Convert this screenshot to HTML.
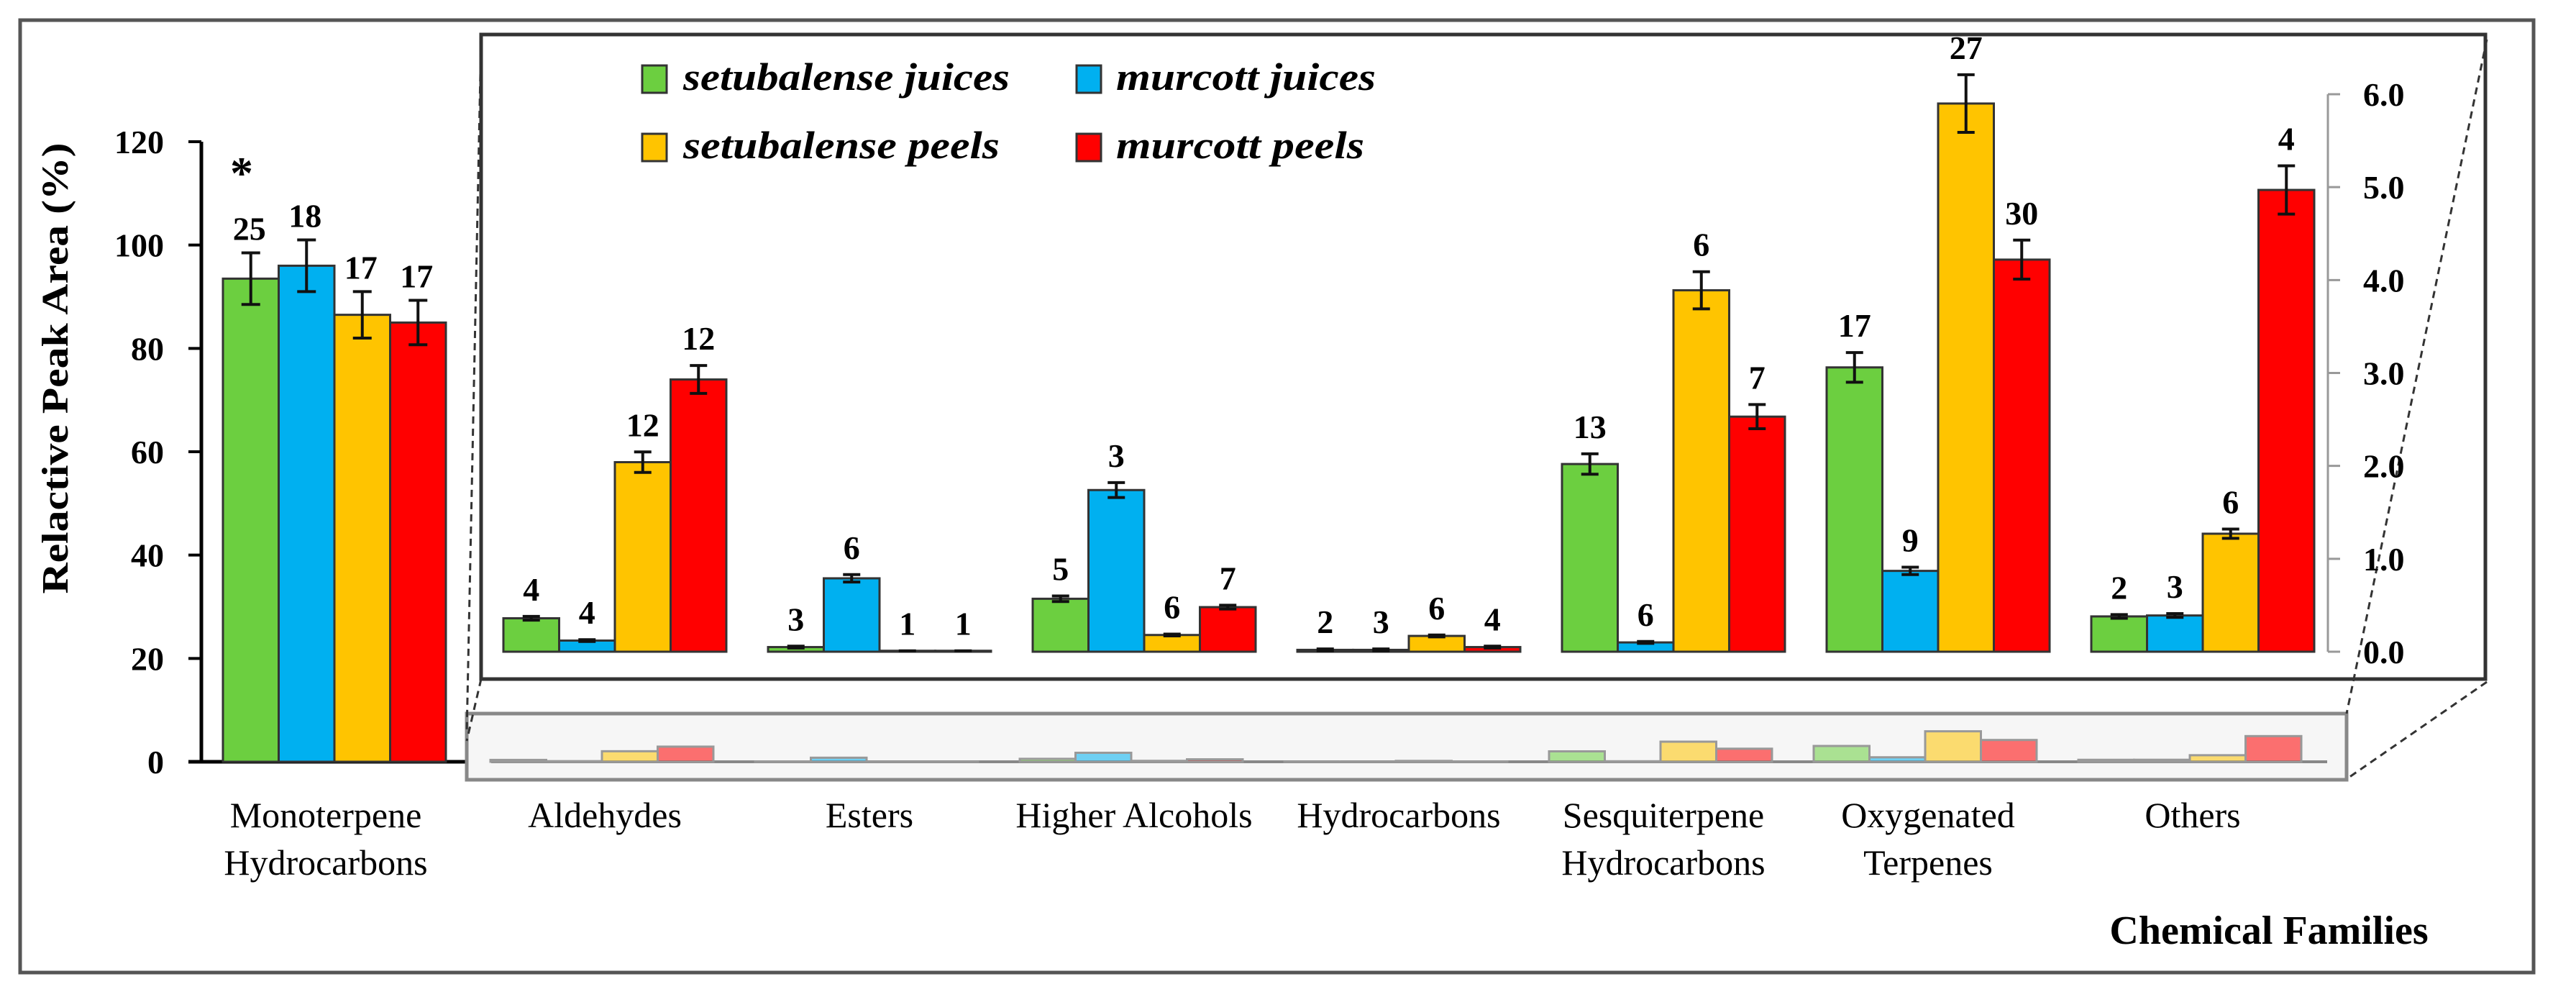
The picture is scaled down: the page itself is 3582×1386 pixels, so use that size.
<!DOCTYPE html>
<html><head><meta charset="utf-8"><style>
html,body{margin:0;padding:0;background:#fff;}
svg{display:block;font-family:"Liberation Serif",serif;}
</style></head><body>
<svg id="chart" width="3582" height="1386" viewBox="0 0 3582 1386" xmlns="http://www.w3.org/2000/svg">
<rect x="28" y="28" width="3495" height="1324" fill="#fff" stroke="#555" stroke-width="5"/>
<g id="main"></g>
<rect x="669" y="48" width="2787" height="896" fill="#fff" stroke="#333" stroke-width="5"/>
<rect x="649" y="992" width="2614" height="92" fill="#f6f6f6" stroke="#888" stroke-width="5"/>
<g stroke="#333" stroke-width="3" stroke-dasharray="10,7" fill="none">
<line x1="669" y1="52" x2="649" y2="1020"/>
<line x1="669" y1="944" x2="649" y2="1030"/>
<line x1="3458" y1="55" x2="3263" y2="992"/>
<line x1="3458" y1="948" x2="3263" y2="1083"/>
</g>
<g id="inset"></g>
<g id="mini"></g>
<g id="legend"></g>
<text x="3155" y="1312" font-size="56" font-weight="bold" text-anchor="middle">Chemical Families</text>
<text transform="translate(94,512) rotate(-90)" font-size="52" font-weight="bold" text-anchor="middle" textLength="627" lengthAdjust="spacingAndGlyphs">Relactive Peak Area (%)</text>
</svg>
<script>
const series = ["setubalense juices","murcott juices","setubalense peels","murcott peels"];
const colors = ["#6ccf40","#00b0f0","#ffc400","#ff0000"];
const mainCategory = ["Monoterpene","Hydrocarbons"];
const mainValues = [93.5, 96, 86.5, 85];
const mainErrors = [5, 5, 4.5, 4.3];
const mainLabels = ["25","18","17","17"];
const mainTicks = [0,20,40,60,80,100,120];
const insetCategories = [["Aldehydes"],["Esters"],["Higher Alcohols"],["Hydrocarbons"],["Sesquiterpene","Hydrocarbons"],["Oxygenated","Terpenes"],["Others"]];
const sjValues = [0.36, 0.05, 0.57, 0.02, 2.02, 3.06, 0.38];
const mjValues = [0.12, 0.79, 1.74, 0.02, 0.10, 0.87, 0.39];
const spValues = [2.04, 0.01, 0.18, 0.17, 3.89, 5.90, 1.27];
const mpValues = [2.93, 0.01, 0.48, 0.05, 2.53, 4.22, 4.97];
const sjErrors = [0.02, 0.01, 0.03, 0.01, 0.11, 0.16, 0.02];
const mjErrors = [0.01, 0.04, 0.08, 0.01, 0.01, 0.04, 0.02];
const spErrors = [0.11, 0.00, 0.01, 0.01, 0.20, 0.31, 0.05];
const mpErrors = [0.15, 0.00, 0.02, 0.01, 0.13, 0.21, 0.26];
const sjLabels = ["4","3","5","2","13","17","2"];
const mjLabels = ["4","6","3","3","6","9","3"];
const spLabels = ["12","1","6","6","6","27","6"];
const mpLabels = ["12","1","7","4","7","30","4"];
const rightTicks = [0,1,2,3,4,5,6];

const NS="http://www.w3.org/2000/svg";
function mk(parent,tag,attrs,text){const e=document.createElementNS(NS,tag);for(const k in attrs)e.setAttribute(k,attrs[k]);if(text!==undefined)e.textContent=text;parent.appendChild(e);return e;}
const yMain = v => 1059 - v*(862/120);
const yIn = v => 906 - v*(775/6);
const BW = 77.5;
const groupX = i => 700 + i*368;

// main plot
const main=document.getElementById('main');
let ax=mk(main,'line',{x1:280,y1:197,x2:280,y2:1061,stroke:'#000','stroke-width':5});


mainTicks.forEach(t=>{
  const y=yMain(t);
  let l=mk(main,'line',{x1:262,y1:y,x2:280,y2:y,stroke:'#000','stroke-width':4});
  
  
  let tx=mk(main,'text',{x:228,y:y+16,'font-size':46,'font-weight':'bold','text-anchor':'end'},String(t));
  
  
});
let bl=mk(main,'line',{x1:262,y1:1059,x2:651,y2:1059,stroke:'#000','stroke-width':5});


mainValues.forEach((v,i)=>{
  const x=310+i*BW, y=yMain(v), cx=x+BW/2;
  let r=mk(main,'rect',{x:x,y:y,width:BW,height:1059-y,fill:colors[i],stroke:'#333','stroke-width':3});
  
  
  const e1=yMain(v+mainErrors[i]), e2=yMain(v-mainErrors[i]);
  let eb=mk(main,'path',{d:`M${cx},${e1}V${e2}M${cx-13},${e1}H${cx+13}M${cx-13},${e2}H${cx+13}`,stroke:'#111','stroke-width':4,fill:'none'});
  
  
  let lb=mk(main,'text',{x:cx-2,y:e1-18,'font-size':46,'font-weight':'bold','text-anchor':'middle'},mainLabels[i]);
  
  
});
let star=mk(main,'text',{x:336,y:262,'font-size':64,'font-weight':'bold','text-anchor':'middle'},'*');


mainCategory.forEach((s,j)=>{
  let t=mk(main,'text',{x:453,y:1150+j*66,'font-size':50,'text-anchor':'middle'},s);
  
  
});

// inset
const inset=document.getElementById('inset');
const allV=[sjValues,mjValues,spValues,mpValues], allE=[sjErrors,mjErrors,spErrors,mpErrors], allL=[sjLabels,mjLabels,spLabels,mpLabels];
let ra=mk(inset,'line',{x1:3237,y1:yIn(6),x2:3237,y2:yIn(0),stroke:'#999','stroke-width':3});


rightTicks.forEach(t=>{
  const y=yIn(t);
  let l=mk(inset,'line',{x1:3237,y1:y,x2:3254,y2:y,stroke:'#999','stroke-width':3});
  
  
  let tx=mk(inset,'text',{x:3286,y:y+16,'font-size':46,'font-weight':'bold'},t.toFixed(1));
  
  
});
insetCategories.forEach((cat,g)=>{
  const gx=groupX(g);
  for(let s=0;s<4;s++){
    const v=allV[s][g], x=gx+s*BW, y=yIn(v), cx=x+BW/2;
    let r=mk(inset,'rect',{x:x,y:y,width:BW,height:906-y,fill:colors[s],stroke:'#333','stroke-width':3});
    
    
    const e1=yIn(v+allE[s][g]), e2=yIn(v-allE[s][g]);
    let eb=mk(inset,'path',{d:`M${cx},${e1}V${e2}M${cx-12},${e1}H${cx+12}M${cx-12},${e2}H${cx+12}`,stroke:'#111','stroke-width':4,fill:'none'});
    
    
    let lb=mk(inset,'text',{x:cx,y:Math.min(e1,y)-22,'font-size':46,'font-weight':'bold','text-anchor':'middle'},allL[s][g]);
    
    
  }
  cat.forEach((s,j)=>{
    let t=mk(inset,'text',{x:gx+155-14,y:1150+j*66,'font-size':50,'text-anchor':'middle'},s);
    
    
  });
});

// mini bars in zoom box
const mini=document.getElementById('mini');
let mb=mk(mini,'line',{x1:683,y1:1059,x2:3236,y2:1059,stroke:'#888','stroke-width':4});


insetCategories.forEach((cat,g)=>{
  const gx=groupX(g)-18;
  for(let s=0;s<4;s++){
    const v=allV[s][g], y=yMain(v);
    let r=mk(mini,'rect',{x:gx+s*BW,y:y,width:BW,height:1059-y,fill:colors[s],'fill-opacity':0.55,stroke:'#999','stroke-width':3});
    
    
  }
});

// legend
const leg=document.getElementById('legend');
const legPos=[[893,91,950,454],[1497,91,1552,361],[893,186,950,440],[1497,186,1552,345]];
series.forEach((s,i)=>{
  const p=legPos[i];
  let r=mk(leg,'rect',{x:p[0],y:p[1],width:34,height:38,fill:colors[i],stroke:'#333','stroke-width':3});
  
  
  let t=mk(leg,'text',{x:p[2],y:p[1]+34,'font-size':54,'font-style':'italic','font-weight':'bold',textLength:p[3],lengthAdjust:'spacingAndGlyphs'},s);
  
  
});
</script>
</body></html>
